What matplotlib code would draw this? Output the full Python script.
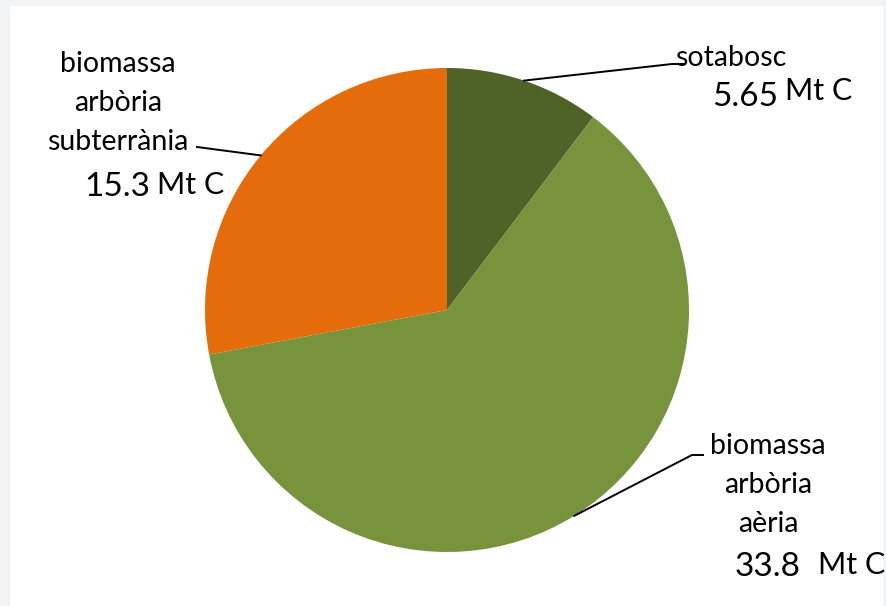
import numpy as np
import matplotlib.pyplot as plt
from matplotlib.patches import Rectangle

# Data
labels = ["sotabosc", "biomassa\narbòria\naèria", "biomassa\narbòria\nsubterrània"]
values = [5.65, 33.8, 15.3]
value_text = ["5.65", "33.8", "15.3"]
colors = ["#4f6228", "#77933c", "#e46c0a"]

plt.rcParams['font.family'] = ['Lato', 'DejaVu Sans']

W, H = 887, 606
fig = plt.figure(figsize=(W / 100, H / 100), dpi=100, facecolor="#f2f3f5")
ax = fig.add_axes([0, 0, 1, 1])

# white chart panel
ax.add_patch(Rectangle((10, 0), 873, H - 6, facecolor="white", edgecolor="none", zorder=0))

cx, cy, r = 447, H - 310, 242
wedges, _ = ax.pie(values, colors=colors, startangle=90, counterclock=False,
                   center=(cx, cy), radius=r, frame=True,
                   wedgeprops=dict(linewidth=0))
ax.set_xlim(0, W)
ax.set_ylim(0, H)
ax.set_aspect("equal")
ax.axis("off")

# label layout: leader elbow/end, name text centre + top, value centre, unit left
layout = [
    dict(elbow=(672, H - 64), end=(685, H - 64), tx=731, ty=H - 45,
         vx=745, vy=H - 97, ux=785, uy=H - 91),
    dict(elbow=(692, H - 455), end=(703, H - 455), tx=768, ty=H - 433,
         vx=768, vy=H - 567, ux=818, uy=H - 565),
    dict(elbow=None, end=(197, H - 147), tx=118, ty=H - 51,
         vx=117, vy=H - 187, ux=157, uy=H - 185),
]

for w, lab, val, lay in zip(wedges, labels, value_text, layout):
    mid = np.deg2rad((w.theta1 + w.theta2) / 2)
    px, py = cx + r * np.cos(mid), cy + r * np.sin(mid)
    xs, ys = [px], [py]
    if lay["elbow"] is not None:
        xs.append(lay["elbow"][0]); ys.append(lay["elbow"][1])
    xs.append(lay["end"][0]); ys.append(lay["end"][1])
    ax.plot(xs, ys, color="black", lw=1.4)
    ax.text(lay["tx"], lay["ty"], lab, ha="center", va="top", fontsize=20.5,
            linespacing=1.62)
    ax.text(lay["vx"], lay["vy"], val, ha="center", va="center", fontsize=24)
    ax.text(lay["ux"], lay["uy"], "Mt C", ha="left", va="center", fontsize=22)

fig.savefig("out.png", dpi=100, facecolor=fig.get_facecolor())
